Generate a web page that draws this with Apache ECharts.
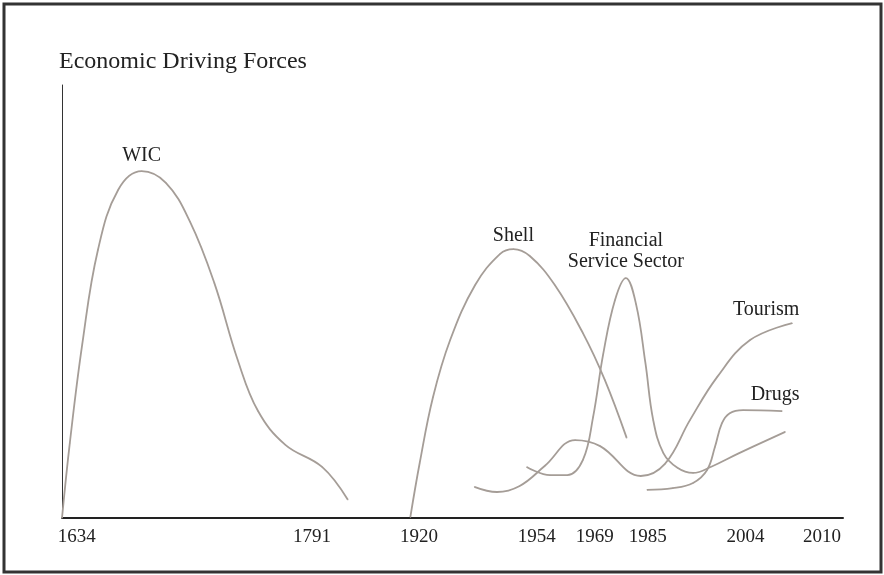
<!DOCTYPE html>
<html>
<head>
<meta charset="utf-8">
<title>Economic Driving Forces</title>
<script src="https://cdn.jsdelivr.net/npm/echarts@6/dist/echarts.min.js"></script>
<style>
    html, body { margin: 0; padding: 0; background: #fff; }
    #chart { width: 884px; height: 575px; }
</style>
</head>
<body>
<div id="chart"></div>
<script>
    // schematic chart: x and y are in relative units 0-100, years only on the tick labels
    var tickPos = [1.9, 32.0, 45.7, 60.8, 68.2, 75.0, 87.5, 97.3];
    var tickYears = ['1634', '1791', '1920', '1954', '1969', '1985', '2004', '2010'];

    var wic = [[0, 0], [1.0, 17.3], [2.6, 40.2], [4.6, 61.9], [7.2, 75.8], [10.2, 80.1], [13.3, 77.4],
        [16.4, 68.4], [19.5, 54.3], [22.5, 36.5], [25.1, 24.7], [28.6, 16.9], [33.3, 11.8], [36.6, 4.2]];
    var shell = [[44.6, 0.2], [45.8, 12.7], [47.5, 27.9], [49.7, 41.1], [52.9, 53.8], [56.1, 61.0],
        [57.8, 62.1], [59.9, 60.5], [63.1, 53.8], [66.7, 42.7], [69.5, 31.9], [72.3, 18.5]];
    var financial = [[59.5, 11.8], [62.5, 9.9], [64.7, 9.9], [66.7, 13.4], [68.0, 23.3], [69.3, 37.9],
        [70.8, 50.3], [72.2, 55.4], [73.5, 49.4], [74.7, 35.8], [75.7, 22.6], [77.0, 15.0], [78.8, 11.6],
        [80.8, 10.4], [83.2, 11.9], [86.5, 14.8], [92.6, 19.9]];
    var tourism = [[52.8, 7.2], [55.7, 6.0], [58.6, 7.4], [61.8, 12.0], [65.7, 18.0], [68.9, 16.6],
        [74.1, 9.7], [77.2, 12.5], [80.4, 22.6], [83.9, 32.6], [88.1, 41.1], [93.5, 45.0]];
    var drugs = [[74.9, 6.5], [78.2, 6.9], [80.8, 8.1], [82.6, 11.1], [83.6, 16.4], [84.5, 21.9],
        [85.5, 24.2], [87.2, 24.9], [92.2, 24.7]];

    var lineColor = '#a59d97';
    var serif = 'Liberation Serif';

    // build one curve; the named point carries the hand-written label
    function curve(name, points, labelIdx, distance, offset) {
        return {
            name: name,
            type: 'line',
            smooth: 0.4,
            symbol: 'circle',
            symbolSize: 1,
            showSymbol: true,
            itemStyle: {color: lineColor},
            lineStyle: {color: lineColor, width: 1.8},
            silent: true,
            z: 3,
            data: points.map(function (p, i) {
                if (i !== labelIdx) {
                    return p;
                }
                return {
                    value: p,
                    label: {
                        show: true,
                        position: 'top',
                        distance: distance,
                        offset: offset || [0, 0],
                        formatter: name,
                        color: '#222',
                        fontFamily: serif,
                        fontSize: 20,
                        lineHeight: 21,
                        align: 'center'
                    }
                };
            })
        };
    }

    var chart = echarts.init(document.getElementById('chart'));

    chart.setOption({
        animation: false,
        backgroundColor: '#fff',
        title: {
            text: 'Economic Driving Forces',
            left: 59,
            top: 50,
            padding: 0,
            textStyle: {fontFamily: serif, fontSize: 24, fontWeight: 'normal', color: '#222'}
        },
        graphic: [{
            type: 'rect',
            shape: {x: 4, y: 4, width: 877, height: 568},
            style: {fill: 'none', stroke: '#333', lineWidth: 3},
            silent: true
        }],
        grid: {left: 62, right: 41, top: 85, bottom: 57},
        xAxis: {
            type: 'value',
            min: 0,
            max: 100,
            axisLine: {show: true, lineStyle: {color: '#222', width: 2}},
            axisTick: {show: false},
            splitLine: {show: false},
            axisLabel: {
                customValues: tickPos,
                margin: 10,
                color: '#222',
                fontFamily: serif,
                fontSize: 19,
                formatter: function (v) {
                    var i = tickPos.indexOf(v);
                    return i >= 0 ? tickYears[i] : '';
                }
            }
        },
        yAxis: {
            type: 'value',
            min: 0,
            max: 100,
            axisLine: {show: true, lineStyle: {color: '#333', width: 1}},
            axisTick: {show: false},
            axisLabel: {show: false},
            splitLine: {show: false}
        },
        series: [
            curve('WIC', wic, 5, 4),
            curve('Shell', shell, 6, 2),
            curve('Financial\nService Sector', financial, 7, 5),
            curve('Tourism', tourism, 11, 2, [-26, 0]),
            curve('Drugs', drugs, 8, 5, [-7, 0])
        ]
    });
</script>
</body>
</html>
